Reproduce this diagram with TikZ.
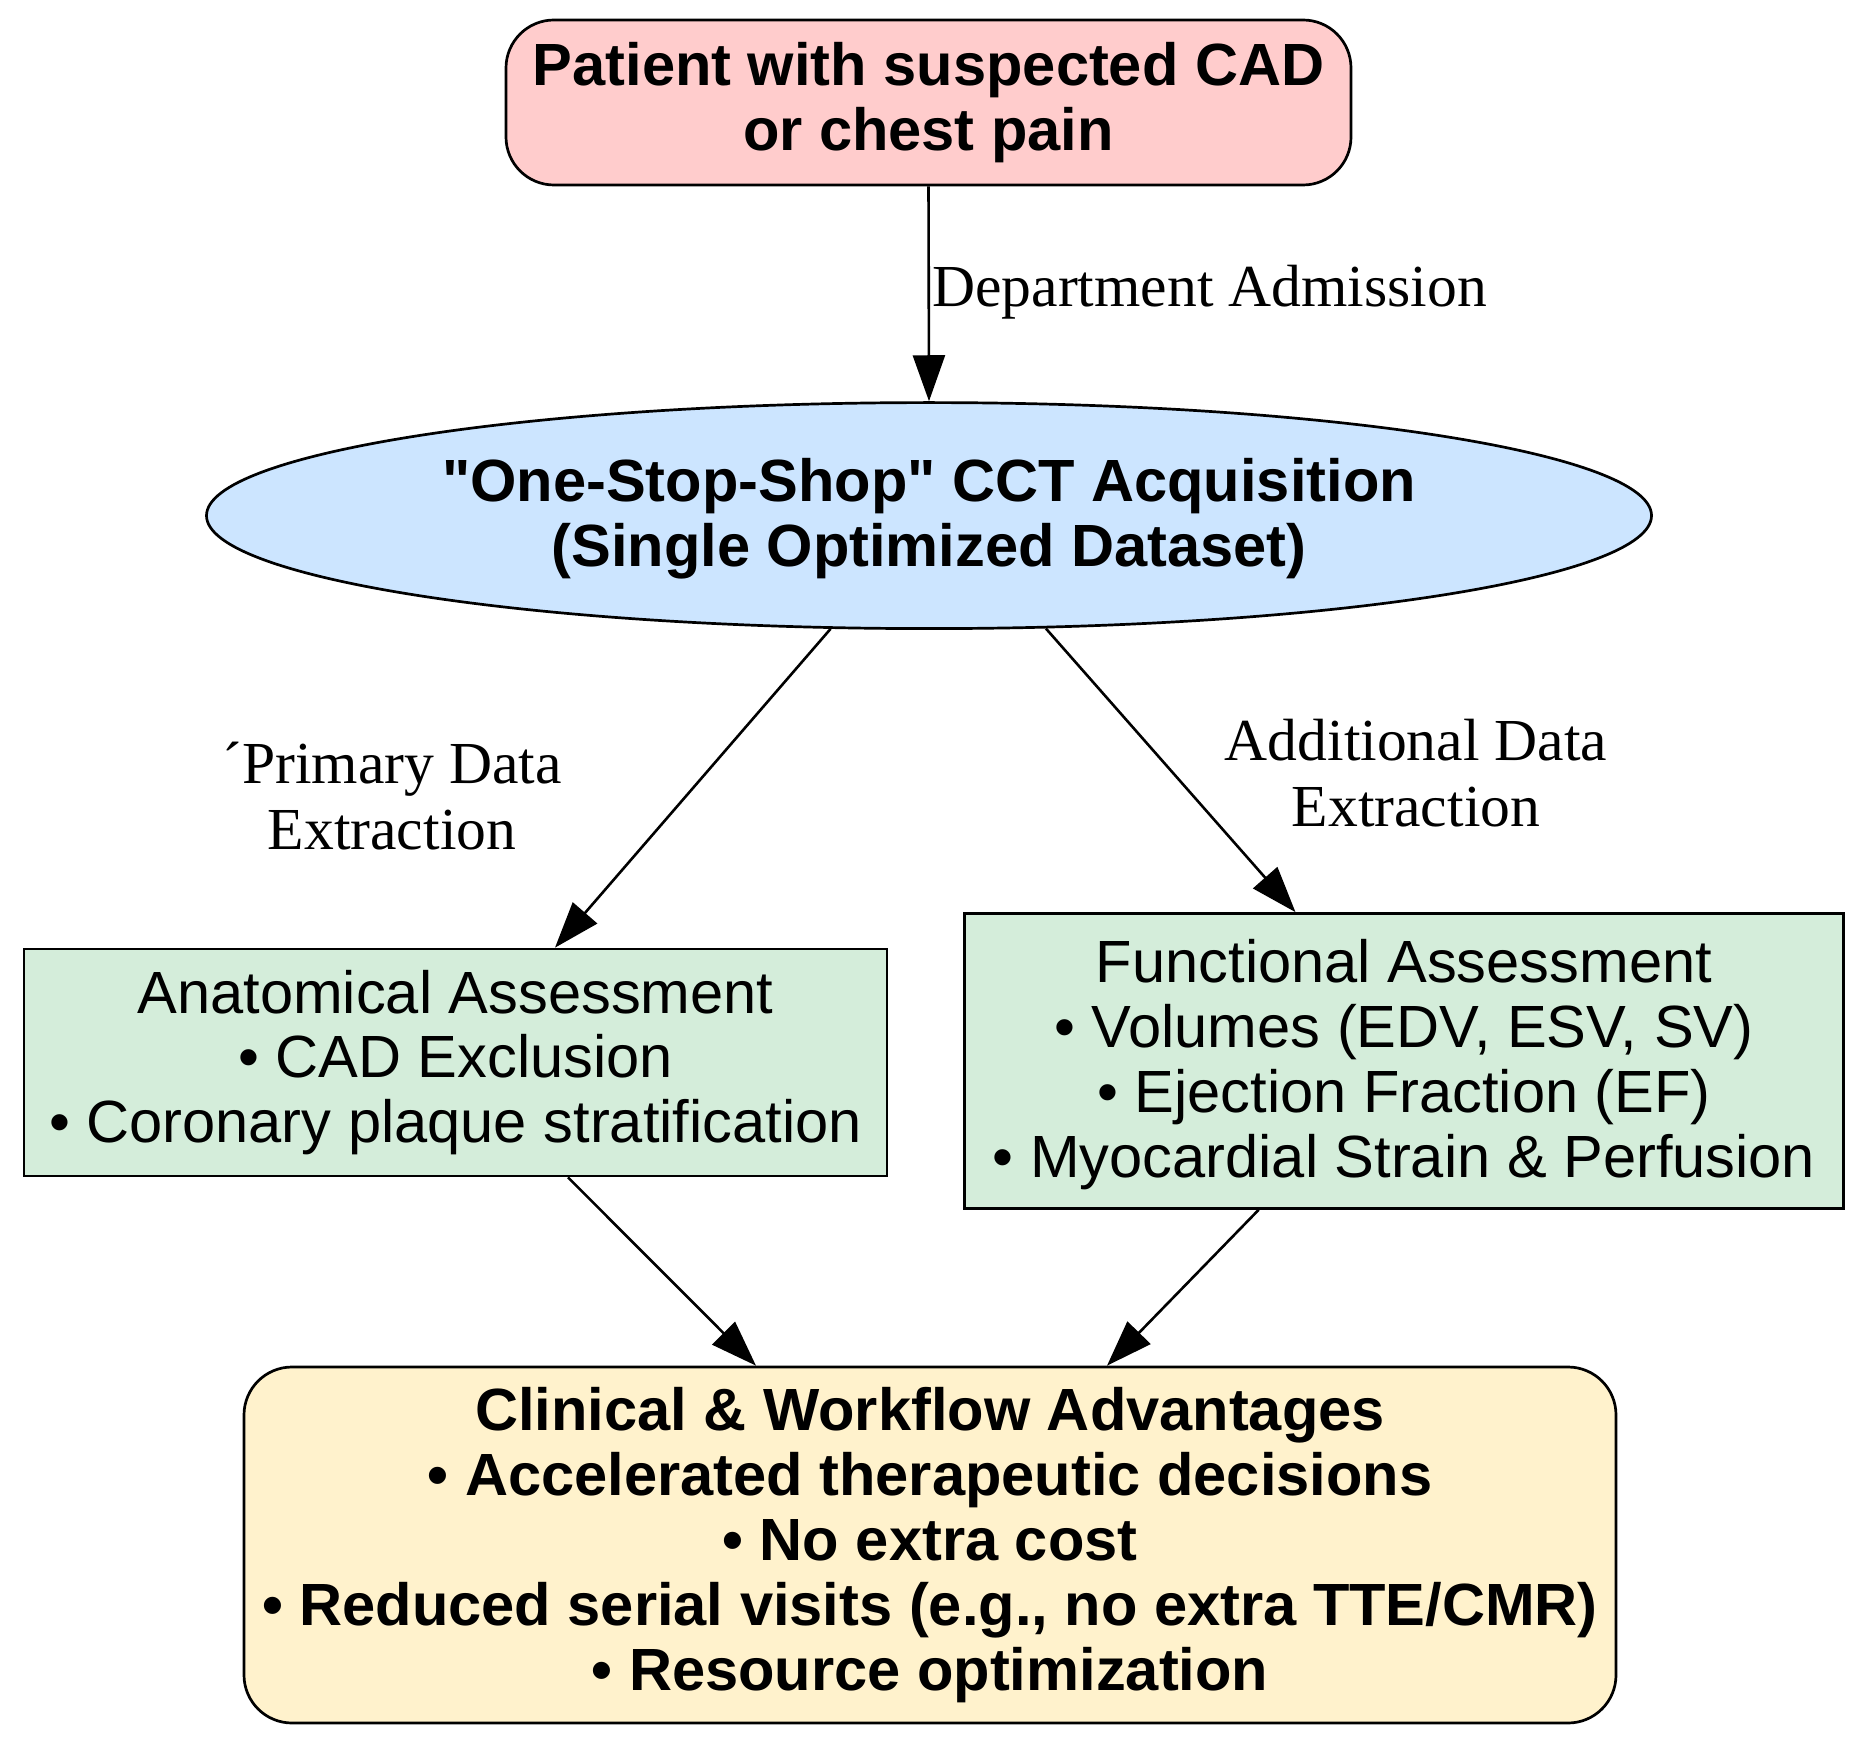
\documentclass[tikz,border=0pt]{standalone}
\usepackage{fontspec}
\setmainfont{Liberation Serif}[Ligatures=TeXOff]
\setsansfont{Liberation Sans}[Ligatures=TeXOff]
\usetikzlibrary{shapes.geometric,arrows.meta,calc}
\definecolor{pinkf}{HTML}{FFCCCC}
\definecolor{bluef}{HTML}{CCE5FF}
\definecolor{greenf}{HTML}{D4EDDA}
\definecolor{creamf}{HTML}{FFF2CC}
\begin{document}
\begin{tikzpicture}[x=0.5pt,y=-0.5pt,
  box/.style={draw=black, line width=1.35pt, align=center, inner sep=0pt,
    font=\sffamily\fontsize{29.8}{32.4}\selectfont},
  bbox/.style={box, font=\sffamily\bfseries\fontsize{29.8}{32.4}\selectfont},
  lab/.style={align=center, inner sep=0pt, font=\rmfamily\fontsize{29.8}{33}\selectfont},
  arr/.style={draw=black, line width=1.3pt, -{Triangle[length=23pt,width=16pt]}}]
\useasboundingbox (0,0) rectangle (1867,1748);
\fill[white] (0,0) rectangle (1867,1748);
\node[bbox, fill=pinkf, rounded corners=24pt, minimum width=422.5pt, minimum height=82.5pt] (top) at (928.5,102.5) {Patient with suspected CAD\\or chest pain};
\node[bbox, ellipse, fill=bluef, minimum width=722.5pt, minimum height=113pt] (ell) at (929,515.6) {\rule{0pt}{25pt}"One-Stop-Shop" CCT Acquisition\\(Single Optimized Dataset)};
\node[box, fill=greenf, minimum width=431.5pt, minimum height=113.5pt] (lg) at (455.5,1062.5) {Anatomical Assessment\\• CAD Exclusion\\• Coronary plaque stratification};
\node[box, fill=greenf, minimum width=439.5pt, minimum height=147.5pt] (rg) at (1404,1061) {\rule{0pt}{25pt}Functional Assessment\\• Volumes (EDV, ESV, SV)\\• Ejection Fraction (EF)\\• Myocardial Strain \& Perfusion};
\node[bbox, fill=creamf, rounded corners=24pt, minimum width=686pt, minimum height=178pt] (bot) at (930,1545) {Clinical \& Workflow Advantages\\• Accelerated therapeutic decisions\\• No extra cost\\• Reduced serial visits (e.g., no extra TTE/CMR)\\• Resource optimization};
\node[lab] (l0) at (1209.5,292.5) {Department Admission};
\node[lab] (l1) at (392,796) {´Primary Data\\Extraction};
\node[lab] (l2) at (1416,773) {Additional Data\\Extraction};
\draw[arr] (top.south) -- (ell.north);
\draw[arr] (ell.-131.5) -- ([xshift=49.75pt]lg.north);
\draw[arr] (ell.-44.1) -- ([xshift=-54.25pt]rg.north);
\draw[arr] ([xshift=56.25pt]lg.south) -- ([xshift=-87pt]bot.north);
\draw[arr] ([xshift=-72.7pt]rg.south) -- ([xshift=88.5pt]bot.north);
\end{tikzpicture}
\end{document}
